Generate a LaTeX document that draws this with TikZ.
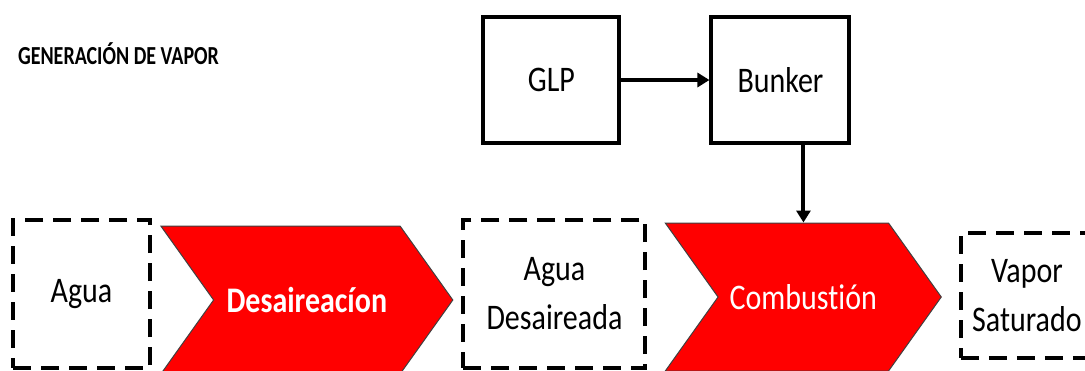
\documentclass[tikz,border=0pt]{standalone}
\usepackage{graphicx}
\usepackage{fontspec}
\setmainfont{Carlito}[Ligatures=NoCommon]
\usetikzlibrary{shapes.symbols,arrows.meta,positioning}

% the text in this sheet is set a little taller than wide
\newcommand{\tallbox}[2][1.2]{\scalebox{1}[#1]{#2}}

\begin{document}
\begin{tikzpicture}[
  node distance=5pt,
  txt/.style={font=\fontsize{15}{24.5}\selectfont, align=center},
  box/.style={draw, line width=2pt, minimum width=68pt, minimum height=63pt, txt},
  stock/.style={draw, line width=2pt, dash pattern=on 9pt off 5pt,
                minimum height=74pt, txt},
  stage/.style={signal, signal to=east, signal from=west, signal pointer angle=109,
                fill=red, draw=black!75, line width=0.5pt, minimum height=74pt,
                inner sep=0pt, text=white, txt},
  arr/.style={-{Triangle[length=6pt,width=7pt]}, line width=2pt},
]
\useasboundingbox (0,0) rectangle (542.5pt,-185pt);
\clip (0,0) rectangle (542.5pt,-185pt);

\node[anchor=west, font=\fontsize{10}{12}\selectfont\bfseries] (title) at (5.5pt,-27pt)
  {\tallbox[1.3]{GENERACIÓN DE VAPOR}};

% main line of the process (a stage's west anchor sits in its notch)
\node[stock, minimum width=68.5pt] (agua) at (40.75pt,-147pt) {\tallbox{Agua}};
\node[stage, minimum width=146pt, right=30.5pt of agua, yshift=-3pt,
      font=\fontsize{15}{24.5}\selectfont\bfseries] (desair) {\tallbox{Desaireacíon}};
\node[stock, minimum width=91pt, right=4pt of desair, yshift=3pt] (aguades)
  {\tallbox{Agua}\\ \tallbox{Desaireada}};
\node[stage, minimum width=138pt, right=35pt of aguades, yshift=-1.5pt] (combust)
  {\tallbox{Combustión}};
\node[stock, minimum width=66pt, minimum height=62.5pt, right=8.5pt of combust,
      yshift=0.75pt] (vapor) {\tallbox{Vapor}\\ \tallbox{Saturado}};

% fuels
\node[box, above=36.5pt of aguades, xshift=-1.5pt] (glp) {\tallbox{GLP}};
\node[box, minimum width=69pt, right=44pt of glp] (bunker) {\tallbox{Bunker}};

\draw[arr] (glp) -- (bunker);
\draw[arr] ([xshift=11.5pt]bunker.south) -- ([xshift=11.5pt]bunker.south |- combust.north);
\end{tikzpicture}
\end{document}
